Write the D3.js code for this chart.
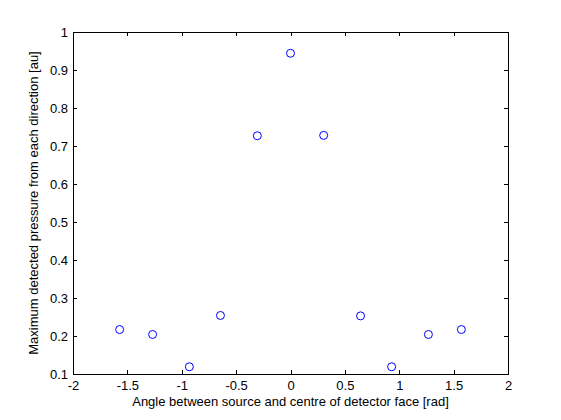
<!DOCTYPE html>
<html>
<head>
<meta charset="utf-8">
<style>
  body { margin: 0; background: #fff; }
  svg text { font-family: "Liberation Sans", Arial, sans-serif; font-size: 13px; fill: #000; }
</style>
</head>
<body>
<svg width="561" height="420"></svg>
<script src="https://d3js.org/d3.v7.min.js"></script>
<script>
// angle between source and centre of detector face [rad]
var angles = [-1.571, -1.268, -0.930, -0.644, -0.305, 0, 0.305, 0.644, 0.930, 1.268, 1.571];
// maximum detected pressure [au]
var pressure = [0.217, 0.204, 0.119, 0.254, 0.727, 0.944, 0.728, 0.253, 0.119, 0.204, 0.217];

var xTicks = [-2, -1.5, -1, -0.5, 0, 0.5, 1, 1.5, 2];
var yTicks = [0.1, 0.2, 0.3, 0.4, 0.5, 0.6, 0.7, 0.8, 0.9, 1];

var svg = d3.select("svg");
var mLeft = 73, mRight = 508, mTop = 32, mBottom = 374;

var x = d3.scaleLinear().domain([-2, 2]).range([mLeft, mRight]);
var y = d3.scaleLinear().domain([0.1, 1]).range([mBottom, mTop]);

var fmt = function(d) { return String(+d.toFixed(1)); };
var tick = 4;

// box
svg.append("rect")
    .attr("x", mLeft).attr("y", mTop)
    .attr("width", mRight - mLeft).attr("height", mBottom - mTop)
    .attr("fill", "#fff").attr("stroke", "#000").attr("stroke-width", 1)
    .attr("shape-rendering", "crispEdges");

// inward ticks, all four sides
svg.append("g")
    .attr("transform", "translate(0," + mBottom + ")")
    .call(d3.axisBottom(x).tickValues(xTicks).tickSizeInner(-tick).tickSizeOuter(0).tickPadding(7).tickFormat(fmt))
    .call(function(g) { g.select(".domain").remove(); });
svg.append("g")
    .attr("transform", "translate(0," + mTop + ")")
    .call(d3.axisTop(x).tickValues(xTicks).tickSizeInner(-tick).tickSizeOuter(0).tickFormat(""))
    .call(function(g) { g.select(".domain").remove(); });
svg.append("g")
    .attr("transform", "translate(" + mLeft + ",0)")
    .call(d3.axisLeft(y).tickValues(yTicks).tickSizeInner(-tick).tickSizeOuter(0).tickPadding(5).tickFormat(fmt))
    .call(function(g) { g.select(".domain").remove(); });
svg.append("g")
    .attr("transform", "translate(" + mRight + ",0)")
    .call(d3.axisRight(y).tickValues(yTicks).tickSizeInner(-tick).tickSizeOuter(0).tickFormat(""))
    .call(function(g) { g.select(".domain").remove(); });

svg.selectAll(".tick line").attr("stroke", "#000").attr("shape-rendering", "crispEdges");
svg.selectAll(".tick text").attr("font-size", null).attr("font-family", null);

// markers
svg.append("g")
    .selectAll("circle")
    .data(angles.map(function(a, i) { return [a, pressure[i]]; }))
    .enter().append("circle")
      .attr("cx", function(d) { return x(d[0]); })
      .attr("cy", function(d) { return y(d[1]); })
      .attr("r", 4)
      .attr("fill", "none")
      .attr("stroke", "#0000ff")
      .attr("stroke-width", 1);

// labels
svg.append("text")
    .attr("x", (mLeft + mRight) / 2)
    .attr("y", 406)
    .attr("text-anchor", "middle")
    .text("Angle between source and centre of detector face [rad]");

svg.append("text")
    .attr("transform", "translate(38," + (mTop + mBottom) / 2 + ") rotate(-90)")
    .attr("text-anchor", "middle")
    .text("Maximum detected pressure from each direction [au]");
</script>
</body>
</html>
